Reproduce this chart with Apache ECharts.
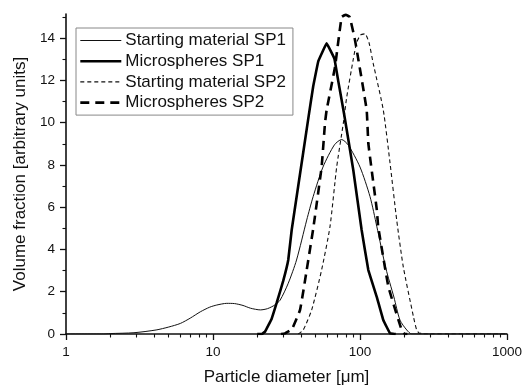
<!DOCTYPE html>
<html><head><meta charset="utf-8">
<script src="https://cdn.jsdelivr.net/npm/echarts/dist/echarts.min.js"></script>
<style>html,body{margin:0;padding:0;background:#fff}#c{width:529px;height:392px}</style>
</head><body><div id="c"></div>
<script>
const seriesNames = ['Starting material SP1', 'Microspheres SP1', 'Starting material SP2', 'Microspheres SP2'];

const startSP1X = [1, 1.8, 2, 2.9, 4.1, 5, 6, 7, 8.2, 9.5, 10.6, 12.4, 14, 16, 18, 21, 23.5, 26.3, 28.6, 32.5, 37, 43.4, 48, 56, 67, 75, 83, 100, 117, 130, 150, 170, 187, 208, 225, 1000];
const startSP1Y = [0, 0, 0.02, 0.06, 0.19, 0.33, 0.5, 0.75, 1.05, 1.27, 1.37, 1.45, 1.44, 1.35, 1.22, 1.14, 1.2, 1.37, 1.6, 2.4, 3.5, 5.39, 6.5, 7.9, 8.95, 9.2, 8.95, 7.9, 6.5, 5.1, 3.1, 1.75, 0.66, 0.19, 0, 0];

const microSP1X = [20, 21.5, 22.6, 25, 27.1, 30, 32.5, 34.3, 38, 44.5, 48, 52, 59.3, 66.9, 71, 78, 90, 102.6, 113.9, 130, 144, 160, 175];
const microSP1Y = [0, 0, 0.11, 0.7, 1.47, 2.5, 3.5, 4.92, 7, 10.2, 11.7, 12.9, 13.75, 13.04, 12.0, 10.4, 7.76, 4.92, 3.03, 1.76, 0.66, 0.03, 0];

const startSP2X = [38, 41.1, 46.9, 54.8, 62.5, 69.4, 77, 81.2, 90, 95, 101, 108, 115, 123, 144, 160, 177.7, 197, 231, 243, 255, 262, 270, 1000];
const startSP2Y = [0, 0.19, 1.14, 3.03, 5.08, 7.9, 9.97, 11.2, 13.0, 13.8, 14.15, 14.2, 13.8, 12.8, 10.6, 8.1, 5.39, 3.18, 0.82, 0.19, 0.03, 0.05, 0, 0];

const microSP2X = [29, 30.9, 33.4, 34.3, 39.1, 43.4, 48.1, 54.8, 57.8, 59.3, 67.6, 75, 80, 85, 92.5, 111, 114, 130, 133, 156, 192, 202, 210];
const microSP2Y = [0, 0.03, 0.16, 0.19, 1.14, 3.03, 5.0, 7.9, 9.98, 10.6, 12.64, 15.0, 15.1, 15.0, 13.9, 10.6, 9.0, 5.9, 5.08, 2.24, 0.19, 0, 0];

const xMin = 1, xMax = 1000;
const xMinorTicks = [2,3,4,5,6,7,8,9,20,30,40,50,60,70,80,90,200,300,400,500,600,700,800,900];
const yMin = 0, yMax = 15.14;
const yMajorTicks = [0, 2, 4, 6, 8, 10, 12, 14];
const yMinorTicks = [1, 3, 5, 7, 9, 11, 13, 15];

const zip = (xs, ys) => xs.map((x, i) => [x, ys[i]]);
const FONT = '"Liberation Sans", Arial, Helvetica, sans-serif';

const styles = [
  {color: '#111', width: 1.0, type: 'solid'},
  {color: '#000', width: 2.6, type: 'solid'},
  {color: '#111', width: 1.1, type: [4, 3]},
  {color: '#000', width: 2.6, type: [9, 6]}
];

const chart = echarts.init(document.getElementById('c'), null, {renderer: 'canvas'});
chart.setOption({
  animation: false,
  backgroundColor: '#fff',
  textStyle: {fontFamily: FONT},
  grid: {left: 66, right: 22, top: 14, bottom: 58},
  legend: {
    left: 76, top: 28, orient: 'vertical',
    padding: [4, 7, 4, 3],
    itemGap: 3.7, itemWidth: 41, itemHeight: 14,
    borderColor: '#888', borderWidth: 1,
    itemStyle: {opacity: 0},
    textStyle: {fontSize: 17, color: '#111', fontFamily: FONT, padding: [0, 0, 0, -1]},
    selectedMode: false,
    data: seriesNames.map((n, i) => ({name: n, lineStyle: {width: styles[i].width, type: styles[i].type, color: styles[i].color}}))
  },
  xAxis: [
    {
      type: 'log', logBase: 10, min: xMin, max: xMax, position: 'bottom',
      name: 'Particle diameter [μm]', nameLocation: 'middle', nameGap: 35,
      nameTextStyle: {fontSize: 17, color: '#111', fontFamily: FONT},
      axisLine: {lineStyle: {color: '#111', width: 1.6}},
      axisTick: {length: 6, lineStyle: {color: '#111', width: 1.3}},
      axisLabel: {fontSize: 13.5, color: '#111', margin: 11, fontFamily: FONT, formatter: v => String(v)},
      splitLine: {show: false}, minorTick: {show: false}
    },
    {
      type: 'value', min: Math.log10(xMin), max: Math.log10(xMax), position: 'bottom',
      axisLine: {show: false},
      axisTick: {show: true, length: 3.5, customValues: xMinorTicks.map(v => Math.log10(v)), lineStyle: {color: '#111', width: 1.1}},
      axisLabel: {show: false},
      splitLine: {show: false}
    }
  ],
  yAxis: [
    {
      type: 'value', min: yMin, max: yMax, position: 'left',
      name: 'Volume fraction [arbitrary units]', nameLocation: 'middle', nameGap: 30,
      nameTextStyle: {fontSize: 17, color: '#111', fontFamily: FONT},
      axisLine: {show: true, lineStyle: {color: '#111', width: 1.6}},
      axisTick: {show: true, length: 6, customValues: yMajorTicks, lineStyle: {color: '#111', width: 1.3}},
      axisLabel: {fontSize: 13.5, color: '#111', margin: 11, customValues: yMajorTicks, fontFamily: FONT},
      splitLine: {show: false}
    },
    {
      type: 'value', min: yMin, max: yMax, position: 'left',
      axisLine: {show: false},
      axisTick: {show: true, length: 3.5, customValues: yMinorTicks, lineStyle: {color: '#111', width: 1.1}},
      axisLabel: {show: false},
      splitLine: {show: false}
    }
  ],
  series: [
    {name: seriesNames[0], type: 'line', xAxisIndex: 0, yAxisIndex: 0, symbol: 'none', smooth: 0.25,
     data: zip(startSP1X, startSP1Y), lineStyle: styles[0], itemStyle: {color: '#111'}, z: 3},
    {name: seriesNames[1], type: 'line', xAxisIndex: 0, yAxisIndex: 0, symbol: 'none', smooth: 0.05,
     data: zip(microSP1X, microSP1Y), lineStyle: styles[1], itemStyle: {color: '#000'}, z: 4},
    {name: seriesNames[2], type: 'line', xAxisIndex: 0, yAxisIndex: 0, symbol: 'none', smooth: 0.2,
     data: zip(startSP2X, startSP2Y), lineStyle: styles[2], itemStyle: {color: '#111'}, z: 3},
    {name: seriesNames[3], type: 'line', xAxisIndex: 0, yAxisIndex: 0, symbol: 'none', smooth: 0.1,
     data: zip(microSP2X, microSP2Y), lineStyle: styles[3], itemStyle: {color: '#000'}, z: 4}
  ]
});
</script></body></html>
